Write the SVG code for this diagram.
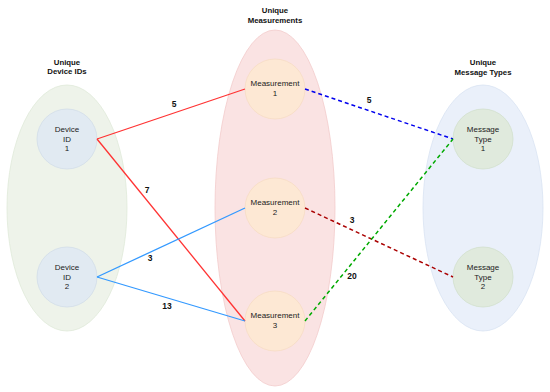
<svg xmlns="http://www.w3.org/2000/svg" width="550" height="392" viewBox="0 0 550 392">
<style>
text{font-family:"Liberation Sans",Arial,sans-serif;font-size:8px;fill:#222;text-anchor:middle}
.t{font-weight:bold;font-size:7.8px;fill:#111}
.l{font-weight:bold;font-size:8.5px;fill:#111}
.dev{fill:#E1EAF2;stroke:#D2DDE9;stroke-width:0.8}
.mea{fill:#FDE8D4;stroke:#F6DCC4;stroke-width:0.8}
.msg{fill:#E0EADD;stroke:#D2E0CD;stroke-width:0.8}
.solid{fill:none;stroke-width:1.3}
.dash{fill:none;stroke-width:1.5;stroke-dasharray:4 3}
</style>
<rect width="550" height="392" fill="#fff"/>
<g id="group-devices">
<ellipse cx="67" cy="208" rx="60" ry="123" fill="#EEF3EA" stroke="#E0EAD9" stroke-width="0.8"/>
<text class="t" x="67" y="65">Unique</text>
<text class="t" x="67" y="74">Device IDs</text>
</g>
<g id="group-measurements">
<ellipse cx="275" cy="208" rx="60" ry="178" fill="#FAE3E3" stroke="#F2CBCB" stroke-width="0.8"/>
<text class="t" x="275" y="13">Unique</text>
<text class="t" x="275" y="23">Measurements</text>
</g>
<g id="group-messages">
<ellipse cx="483" cy="208" rx="60" ry="123" fill="#EAF0FA" stroke="#D9E3F3" stroke-width="0.8"/>
<text class="t" x="483" y="65">Unique</text>
<text class="t" x="483" y="75">Message Types</text>
</g>
<g id="device1"><circle class="dev" cx="67" cy="139" r="30"/><text x="67" y="132">Device</text><text x="67" y="142">ID</text><text x="67" y="151">1</text></g>
<g id="device2"><circle class="dev" cx="67" cy="277" r="30"/><text x="67" y="270">Device</text><text x="67" y="280">ID</text><text x="67" y="289">2</text></g>
<g id="meas1"><circle class="mea" cx="275" cy="89" r="30"/><text x="275" y="86">Measurement</text><text x="275" y="96">1</text></g>
<g id="meas2"><circle class="mea" cx="275" cy="208" r="30"/><text x="275" y="205">Measurement</text><text x="275" y="215">2</text></g>
<g id="meas3"><circle class="mea" cx="275" cy="321" r="30"/><text x="275" y="318">Measurement</text><text x="275" y="328">3</text></g>
<g id="msg1"><circle class="msg" cx="483" cy="139" r="30"/><text x="483" y="132">Message</text><text x="483" y="142">Type</text><text x="483" y="151">1</text></g>
<g id="msg2"><circle class="msg" cx="483" cy="277" r="30"/><text x="483" y="270">Message</text><text x="483" y="280">Type</text><text x="483" y="289">2</text></g>
<g id="connectors">
<path class="solid" stroke="#FF3333" d="M97 139L245 89"/>
<path class="solid" stroke="#FF3333" d="M97 139L245 321"/>
<path class="solid" stroke="#3399FF" d="M97 277L245 208"/>
<path class="solid" stroke="#3399FF" d="M97 277L245 321"/>
<path class="dash" stroke="#0000EE" d="M305 89L453 139"/>
<path class="dash" stroke="#AA0000" d="M305 208L453 277"/>
<path class="dash" stroke="#00AA00" d="M305 321L453 139"/>
<text class="l" x="174" y="107">5</text>
<text class="l" x="147" y="193">7</text>
<text class="l" x="150" y="261">3</text>
<text class="l" x="167" y="309">13</text>
<text class="l" x="369" y="103">5</text>
<text class="l" x="352" y="223">3</text>
<text class="l" x="352" y="279">20</text>
</g>
</svg>
